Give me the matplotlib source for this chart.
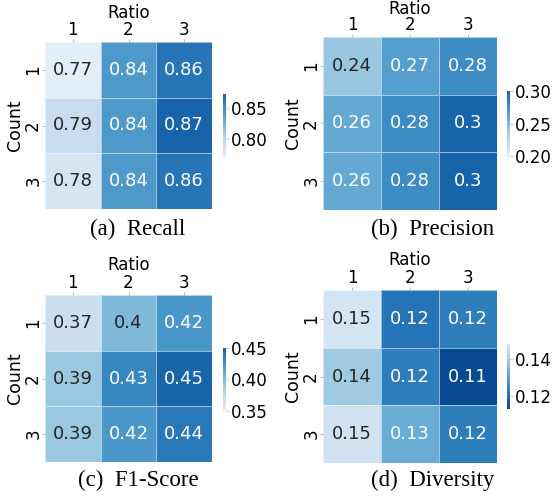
import numpy as np
import matplotlib
matplotlib.use("Agg")
import matplotlib.pyplot as plt
from matplotlib.colors import ListedColormap
import seaborn as sns

# ---- data ----
ratio_labels = ["1", "2", "3"]
count_labels = ["1", "2", "3"]
recall = [[0.771, 0.842, 0.862],
          [0.791, 0.842, 0.872],
          [0.781, 0.842, 0.862]]
precision = [[0.2414, 0.267, 0.277],
             [0.260, 0.277, 0.2995],
             [0.260, 0.277, 0.2995]]
f1 = [[0.3686, 0.400, 0.4214],
      [0.391, 0.431, 0.449],
      [0.391, 0.421, 0.4386]]
diversity = [[0.148, 0.121, 0.1228],
             [0.1387, 0.1228, 0.113],
             [0.147, 0.1321, 0.1228]]
captions = ["(a)  Recall", "(b)  Precision", "(c)  F1-Score", "(d)  Diversity"]

W, H = 552, 497
fig = plt.figure(figsize=(W / 100, H / 100), dpi=100)


def rect(x0, y0, x1, y1):
    return [x0 / W, 1 - y1 / H, (x1 - x0) / W, (y1 - y0) / H]


def trunc(lo, hi, rev=False):
    c = plt.cm.Blues(np.linspace(lo, hi, 256))
    if rev:
        c = c[::-1]
    return ListedColormap(c)


panels = [
    dict(data=recall, ax=(45, 42, 212, 209), cax=(223, 94, 226, 157),
         cmap=trunc(0.1, 0.8), vmin=None, vmax=None, ticks=[0.80, 0.85],
         cap=(138, 229), ratio_y=12.5, count_x=15),
    dict(data=precision, ax=(323, 37, 497, 210), cax=(507, 91, 510, 156),
         cmap=trunc(0.1, 0.8), vmin=0.2, vmax=0.3, ticks=[0.20, 0.25, 0.30],
         cap=(433, 229), ratio_y=8.6, count_x=293),
    dict(data=f1, ax=(45, 295, 212, 462), cax=(223, 348, 226, 411),
         cmap=trunc(0.1, 0.8), vmin=0.35, vmax=0.45, ticks=[0.35, 0.40, 0.45],
         cap=(138, 480), ratio_y=265.5, count_x=15),
    dict(data=diversity, ax=(323, 290, 497, 463), cax=(507, 344, 510, 409),
         cmap=trunc(0.18, 0.9, rev=True), vmin=None, vmax=None, ticks=[0.12, 0.14],
         cap=(433, 480), ratio_y=260, count_x=293),
]

for p, cap in zip(panels, captions):
    ax = fig.add_axes(rect(*p["ax"]))
    cax = fig.add_axes(rect(*p["cax"]))
    sns.heatmap(np.array(p["data"]), ax=ax, cbar_ax=cax, cmap=p["cmap"],
                vmin=p["vmin"], vmax=p["vmax"], annot=True, fmt=".2g",
                annot_kws={"size": 13}, linewidths=0.6,
                linecolor=(1, 1, 1, 0.55),
                xticklabels=ratio_labels, yticklabels=count_labels)
    ax.xaxis.tick_top()
    ax.xaxis.set_label_position("top")
    ax.tick_params(axis="both", labelsize=12, length=2, color="#bbbbbb", pad=0)
    ax.set_yticklabels(count_labels, rotation=90, va="center")
    ax.set_xticklabels(ratio_labels, rotation=0)
    # axis labels placed in figure pixels
    x0, y0, x1, y1 = p["ax"]
    fig.text(((x0 + x1) / 2) / W, 1 - p["ratio_y"] / H, "Ratio", ha="center",
             va="center", fontsize=12)
    fig.text(p["count_x"] / W, 1 - ((y0 + y1) / 2) / H, "Count", ha="center",
             va="center", rotation=90, fontsize=12.5)
    cax.set_yticks(p["ticks"])
    cax.set_yticklabels([f"{t:.2f}" for t in p["ticks"]])
    cax.tick_params(labelsize=12, length=2.5, width=0.6, color="#bbbbbb", pad=1)
    fig.text(p["cap"][0] / W, 1 - p["cap"][1] / H, cap, ha="center", va="center",
             fontsize=16.5, family="Liberation Serif")

fig.savefig("out.png", dpi=100)
